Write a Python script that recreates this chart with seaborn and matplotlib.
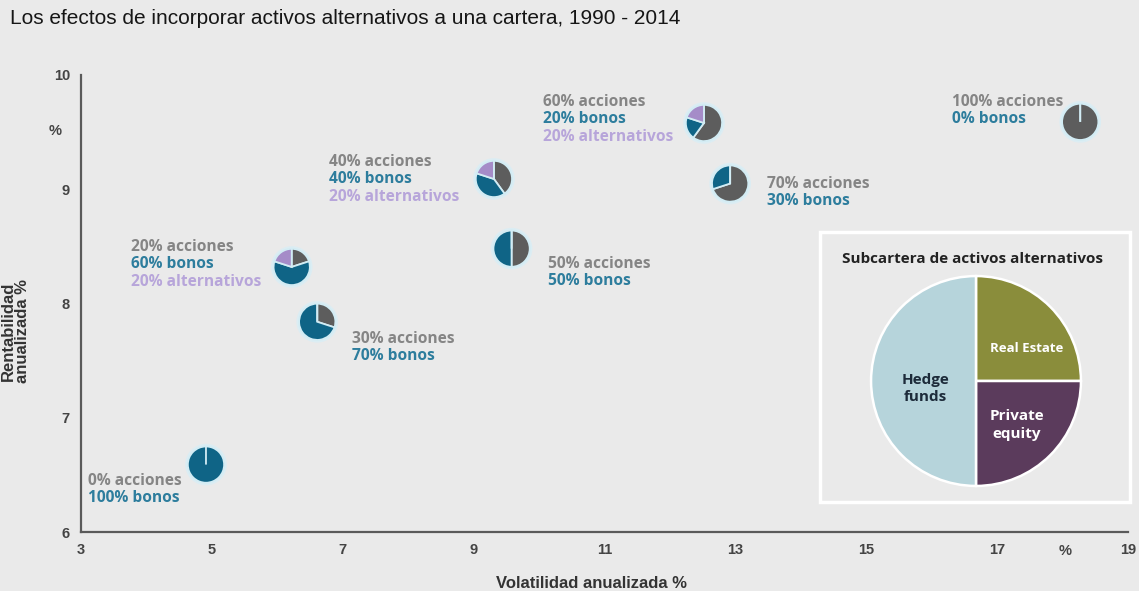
import matplotlib
matplotlib.use("Agg")
import matplotlib.pyplot as plt
import seaborn as sns
from matplotlib.patches import Rectangle

# Portfolio mixes: annualised volatility (%) and annualised return (%)
volatilidad = [4.91, 6.61, 6.22, 9.31, 9.58, 12.52, 12.92, 18.27]
rentabilidad = [6.59, 7.84, 8.32, 9.09, 8.48, 9.58, 9.05, 9.59]
acciones = [0, 30, 20, 40, 50, 60, 70, 100]
bonos = [100, 70, 60, 40, 50, 20, 30, 0]
alternativos = [0, 0, 20, 20, 0, 20, 0, 0]

# Alternative-assets sub-portfolio
alt_nombres = ["Real Estate", "Private\nequity", "Hedge\nfunds"]
alt_pesos = [25, 25, 50]

x_ticks = [3, 5, 7, 9, 11, 13, 15, 17, 19]
y_ticks = [6, 7, 8, 9, 10]

titulo = "Los efectos de incorporar activos alternativos a una cartera, 1990 - 2014"
subtitulo = "Subcartera de activos alternativos"

# colours
BG = "#eaeaea"
C_ACC, C_BON, C_ALT = "#5d5d5d", "#0f6486", "#a58cc8"
T_ACC, T_BON, T_ALT = "#858585", "#2d7d9d", "#b7a5da"
ALT_COLORS = ["#8a8d3b", "#5b3b5c", "#b6d4db"]

sns.set_theme(style="white", rc={"axes.facecolor": BG, "figure.facecolor": BG})
plt.rcParams["font.family"] = ["Liberation Sans", "DejaVu Sans"]
LABEL_FONT = ["Open Sans", "DejaVu Sans"]

W, H = 1139, 591
fig = plt.figure(figsize=(W / 100, H / 100), dpi=100)
ax = fig.add_axes([81 / W, 59 / H, 1047 / W, 457 / H])
ax.set_xlim(3, 19)
ax.set_ylim(6, 10)

# soft halo behind each pie
sns.scatterplot(x=volatilidad, y=rentabilidad, s=900, color="#dcedf3",
                edgecolor="none", ax=ax, zorder=1, legend=False)

# one small pie per portfolio, positioned by its (volatility, return) point
px_x = ax.get_position().width * W / (ax.get_xlim()[1] - ax.get_xlim()[0])
px_y = ax.get_position().height * H / (ax.get_ylim()[1] - ax.get_ylim()[0])
R = 18.5
for vx, vy, a, b, c in zip(volatilidad, rentabilidad, acciones, bonos, alternativos):
    rx, ry = R / px_x, R / px_y
    iax = ax.inset_axes([vx - rx, vy - ry, 2 * rx, 2 * ry], transform=ax.transData, zorder=3)
    iax.pie([a, b, c], colors=[C_ACC, C_BON, C_ALT], startangle=90, counterclock=False,
            radius=1, wedgeprops=dict(edgecolor="#d2ecf4", linewidth=1.3))
    iax.set_xlim(-1.02, 1.02)
    iax.set_ylim(-1.02, 1.02)
    iax.set_aspect("equal")
    iax.axis("off")

# text labels next to each pie (offsets in pixels from the pie centre)
label_offsets = [(-118, -16), (35, -17), (-161, 20), (-165, 17),
                 (36, -15), (-161, 21), (37, 0), (-128, 20)]
LS = 17.5
for (vx, vy, a, b, c), (dx, dy) in zip(
        zip(volatilidad, rentabilidad, acciones, bonos, alternativos), label_offsets):
    lines = [(f"{a}% acciones", T_ACC), (f"{b}% bonos", T_BON)]
    if c > 0:
        lines.append((f"{c}% alternativos", T_ALT))
    for i, (txt, col) in enumerate(lines):
        ax.annotate(txt, xy=(vx, vy), xytext=(dx, dy - i * LS), textcoords="offset pixels",
                    ha="left", va="center", color=col, fontsize=11.2, fontweight="bold",
                    family=LABEL_FONT, zorder=4)

# axes styling
for s in ["top", "right"]:
    ax.spines[s].set_visible(False)
for s in ["left", "bottom"]:
    ax.spines[s].set_color("#5a5a5a")
    ax.spines[s].set_linewidth(1.6)
ax.set_xticks(x_ticks)
ax.set_yticks(y_ticks)
ax.set_xticklabels([str(t) for t in x_ticks])
ax.set_yticklabels([str(t) for t in y_ticks])
ax.tick_params(axis="both", direction="out", length=4, width=1.2, color="#5a5a5a",
               labelsize=10.5, labelcolor="#444444", pad=4)
for lab in ax.get_xticklabels() + ax.get_yticklabels():
    lab.set_fontweight("bold")

ax.set_xlabel("Volatilidad anualizada %", fontsize=12, fontweight="bold", color="#333333")
ax.xaxis.set_label_coords((591 - 81) / 1047, -(576 - 532) / 457)
ax.set_ylabel("Rentabilidad\nanualizada %", fontsize=12, fontweight="bold", color="#333333",
              linespacing=0.9)
ax.yaxis.set_label_coords(-(81 - 30) / 1047, (532 - 331) / 457)

# unit markers
fig.text(55 / W, 1 - 131 / H, "%", ha="center", va="center", fontsize=10.5,
         fontweight="bold", color="#444444")
fig.text(1065 / W, 1 - 551 / H, "%", ha="center", va="center", fontsize=10.5,
         fontweight="bold", color="#444444")

# title
fig.text(10 / W, 1 - 18 / H, titulo, ha="left", va="center", fontsize=15,
         color="#161616")

# inset: composition of the alternative-assets sub-portfolio
fig.patches.append(Rectangle((820 / W, 1 - 502 / H), 310 / W, 270 / H,
                             transform=fig.transFigure, facecolor="none",
                             edgecolor="white", linewidth=2.5, zorder=5))
fig.text(972 / W, 1 - 259 / H, subtitulo, ha="center", va="center", fontsize=11,
         fontweight="bold", color="#222222", family=LABEL_FONT)
pax = fig.add_axes([(976 - 106) / W, 1 - (381 + 106) / H, 212 / W, 212 / H])
pax.pie(alt_pesos, colors=ALT_COLORS, startangle=90, counterclock=False, radius=1,
        wedgeprops=dict(edgecolor="white", linewidth=1.8))
pax.set_xlim(-1.01, 1.01)
pax.set_ylim(-1.01, 1.01)
pax.set_aspect("equal")
pax.axis("off")
alt_text_pos = [(0.48, 0.31), (0.39, -0.42), (-0.48, -0.07)]
alt_text_col = ["white", "white", "#1d2b3a"]
alt_text_size = [9.5, 11, 11]
for nombre, (tx, ty), col, fs in zip(alt_nombres, alt_text_pos, alt_text_col, alt_text_size):
    pax.text(tx, ty, nombre, ha="center", va="center", color=col, fontsize=fs,
             fontweight="bold", family=LABEL_FONT, linespacing=1.3)

fig.savefig("out.png", dpi=100, facecolor=BG)
